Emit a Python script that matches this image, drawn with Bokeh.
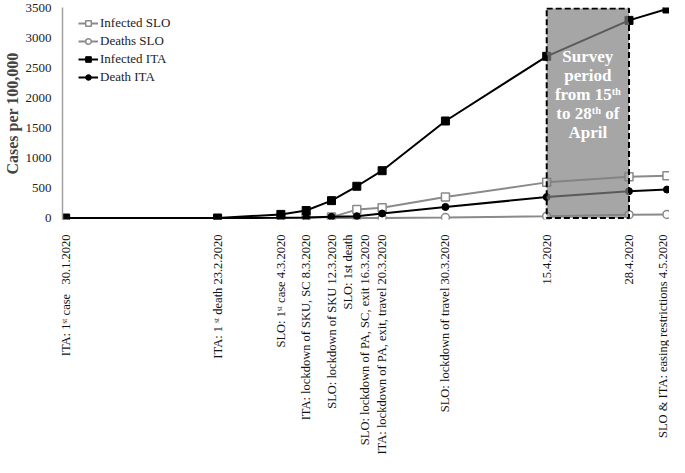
import math
import pandas as pd
from bokeh.plotting import figure
from bokeh.models import Range1d, FixedTicker, Legend, LegendItem, Label
from bokeh.embed import file_html
from bokeh.resources import INLINE

# ---- data ----
dates = ["30.1.2020", "23.2.2020", "4.3.2020", "8.3.2020", "12.3.2020", "16.3.2020",
         "20.3.2020", "30.3.2020", "15.4.2020", "28.4.2020", "4.5.2020"]
tick_labels = [
    "ITA: 1ˢᵗ case\u00a0\u00a0\u00a030.1.2020",
    "ITA: 1 ˢᵗ death 23.2.2020",
    "SLO: 1ˢᵗ case 4.3.2020",
    "ITA: lockdown of SKU, SC 8.3.2020",
    "SLO: lockdown of SKU 12.3.2020",
    "SLO: 1st death\nSLO: lockdown of PA, SC, exit 16.3.2020",
    "ITA: lockdown of PA, exit, travel 20.3.2020",
    "SLO: lockdown of travel 30.3.2020",
    "15.4.2020",
    "28.4.2020",
    "SLO & ITA: easing restrictions 4.5.2020",
]
infected_ita = [0, 0, 60, 125, 290, 530, 790, 1620, 2700, 3300, 3490]
death_ita = [None, 0, 3, 8, 20, 30, 75, 185, 350, 448, 475]
infected_slo = [None, None, 2, 5, 15, 140, 170, 350, 595, 690, 705]
deaths_slo = [None, None, None, None, 0, 1, 2, 8, 30, 55, 60]

survey_start = "15.4.2020"
survey_end = "28.4.2020"
y_ticks = [0, 500, 1000, 1500, 2000, 2500, 3000, 3500]

origin = pd.Timestamp("2020-01-01")
def day(s):
    return int((pd.to_datetime(s, format="%d.%m.%Y") - origin).days)

xs = [day(d) for d in dates]

FONT = "Liberation Serif"
GRAY = "#8a8a8a"

p = figure(width=669, height=457, output_backend="svg", toolbar_location=None,
           x_range=Range1d(xs[0] - 0.5, xs[-1] + 0.4),
           y_range=Range1d(-25, 3515),
           min_border_top=7, min_border_right=0, min_border_left=0, min_border_bottom=0)
p.outline_line_color = None
p.xgrid.visible = False
p.ygrid.visible = False
p.background_fill_color = "white"

def series(vals):
    x2, y2 = [], []
    for x, v in zip(xs, vals):
        if v is not None:
            x2.append(x)
            y2.append(v)
    return x2, y2

renderers = {}
# SLO series (gray)
x2, y2 = series(deaths_slo)
l1 = p.line(x2, y2, line_color=GRAY, line_width=2)
m1 = p.scatter(x2, y2, marker="circle", size=8, fill_color="white", line_color=GRAY, line_width=1.5)
renderers["Deaths SLO"] = [l1, m1]
x2, y2 = series(infected_slo)
l2 = p.line(x2, y2, line_color=GRAY, line_width=2)
m2 = p.scatter(x2, y2, marker="square", size=8, fill_color="white", line_color=GRAY, line_width=1.5)
renderers["Infected SLO"] = [l2, m2]
# ITA series (black)
x2, y2 = series(death_ita)
l3 = p.line(x2, y2, line_color="black", line_width=2)
m3 = p.scatter(x2, y2, marker="circle", size=7, fill_color="black", line_color="black")
renderers["Death ITA"] = [l3, m3]
x2, y2 = series(infected_ita)
l4 = p.line(x2, y2, line_color="black", line_width=2)
m4 = p.scatter(x2, y2, marker="square", size=8, fill_color="black", line_color="black")
renderers["Infected ITA"] = [l4, m4]

# survey period box (overlay)
p.quad(left=[day(survey_start)], right=[day(survey_end)], bottom=[0], top=[3500],
       fill_color="#808080", fill_alpha=0.7, line_color="black", line_width=2,
       line_dash="6 3")

mid = (day(survey_start) + day(survey_end)) / 2
box_lines = ["Survey", "period", "from 15ᵗʰ", "to 28ᵗʰ of", "April"]
ys = [2690, 2375, 2060, 1745, 1430]
for t, yv in zip(box_lines, ys):
    p.add_layout(Label(x=mid, y=yv, text=t, text_color="white", text_font=FONT,
                       text_font_size="17px", text_font_style="bold",
                       text_align="center", text_baseline="middle"))

legend = Legend(items=[LegendItem(label=k, renderers=renderers[k]) for k in
                       ["Infected SLO", "Deaths SLO", "Infected ITA", "Death ITA"]],
                border_line_color=None, background_fill_alpha=0,
                label_text_font=FONT, label_text_font_size="13px", label_height=14,
                glyph_height=14, glyph_width=20, label_standoff=2, spacing=2,
                padding=2, margin=0, label_text_color="#222222")
legend.location = (16, 134)
p.add_layout(legend)

# axes
p.yaxis.ticker = FixedTicker(ticks=y_ticks)
p.yaxis.axis_label = "Cases per 100,000"
p.yaxis.axis_label_text_font = FONT
p.yaxis.axis_label_text_font_style = "bold"
p.yaxis.axis_label_text_font_size = "16px"
p.yaxis.axis_label_standoff = 2
p.yaxis.major_label_text_font = FONT
p.yaxis.major_label_text_font_size = "13px"
p.yaxis.major_label_text_color = "#222222"
p.yaxis.major_tick_line_color = None
p.yaxis.minor_tick_line_color = None
p.yaxis.axis_line_color = "#a0a0a0"
p.yaxis.axis_line_width = 1.5
p.yaxis.major_label_standoff = 5

p.xaxis.ticker = FixedTicker(ticks=xs)
p.xaxis.major_label_overrides = {x: lab for x, lab in zip(xs, tick_labels)}
p.xaxis.major_label_orientation = math.pi / 2
p.xaxis.major_label_text_font = FONT
p.xaxis.major_label_text_font_size = "12.5px"
p.xaxis.major_label_text_color = "#111111"
p.xaxis.major_tick_line_color = None
p.xaxis.minor_tick_line_color = None
p.xaxis.axis_line_color = None
p.xaxis.major_label_standoff = 9

open("out.html", "w").write(file_html(p, INLINE))
